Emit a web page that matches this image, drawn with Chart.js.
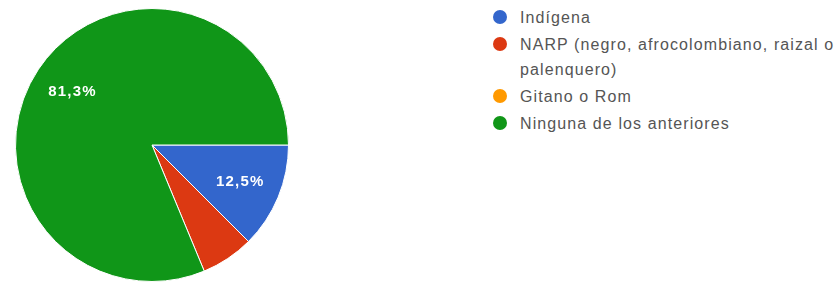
<!DOCTYPE html>
<html>
<head>
<meta charset="utf-8">
<script src="https://cdn.jsdelivr.net/npm/chart.js@4"></script>
<style>
    html, body { margin: 0; padding: 0; background: #fff; width: 840px; height: 282px; overflow: hidden; }
    #pieBox { position: absolute; left: 15px; top: 8px; width: 274px; height: 274px; }
    #legend { position: absolute; left: 493px; top: 5px; font-family: "Liberation Sans", Arial, sans-serif; font-size: 16px; color: #555; letter-spacing: 1.1px; }
    .item { position: relative; padding-left: 27px; line-height: 25px; width: 345px; margin-bottom: 2px; }
    .dot { position: absolute; left: 0px; top: 5px; width: 14px; height: 14px; border-radius: 50%; }
</style>
</head>
<body>
<div id="pieBox"><canvas id="pieChart"></canvas></div>
<div id="legend"></div>
<script>
const categories = ['Indígena', 'NARP (negro, afrocolombiano, raizal o palenquero)', 'Gitano o Rom', 'Ninguna de los anteriores'];
const counts = [2, 1, 0, 13];
const colors = ['#3366cc', '#dc3912', '#ff9900', '#109618'];

// percent labels inside the slices, like google forms does
const sliceLabels = {
    id: 'sliceLabels',
    afterDatasetsDraw(chart) {
        const ctx = chart.ctx;
        const meta = chart.getDatasetMeta(0);
        const total = counts.reduce((a, b) => a + b, 0);
        ctx.save();
        ctx.fillStyle = '#fff';
        ctx.font = 'bold 15px "Liberation Sans", Arial, sans-serif';
        ctx.letterSpacing = '1.2px';
        ctx.textAlign = 'center';
        ctx.textBaseline = 'middle';
        meta.data.forEach(function (arc, i) {
            const pct = counts[i] / total * 100;
            if (pct < 10) return;
            const mid = (arc.startAngle + arc.endAngle) / 2;
            const r = arc.outerRadius * 0.7;
            const txt = pct.toFixed(1).replace('.', ',') + '%';
            ctx.fillText(txt, arc.x + Math.cos(mid) * r, arc.y + Math.sin(mid) * r);
        });
        ctx.restore();
    }
};

new Chart(document.getElementById('pieChart').getContext('2d'), {
    type: 'pie',
    data: {
        labels: categories,
        datasets: [{
            data: counts,
            backgroundColor: colors,
            borderColor: '#ffffff',
            borderWidth: 1
        }]
    },
    options: {
        rotation: 90,
        animation: false,
        responsive: true,
        maintainAspectRatio: false,
        plugins: {
            legend: { display: false },
            tooltip: { enabled: false }
        }
    },
    plugins: [sliceLabels]
});

const legend = document.getElementById('legend');
const legendLines = ['Indígena', 'NARP (negro, afrocolombiano, raizal o<br>palenquero)', 'Gitano o Rom', 'Ninguna de los anteriores'];
for (let i = 0; i < categories.length; i++) {
    const item = document.createElement('div');
    item.className = 'item';
    const dot = document.createElement('span');
    dot.className = 'dot';
    dot.style.background = colors[i];
    item.appendChild(dot);
    const text = document.createElement('span');
    text.innerHTML = legendLines[i];
    item.appendChild(text);
    legend.appendChild(item);
}
</script>
</body>
</html>
